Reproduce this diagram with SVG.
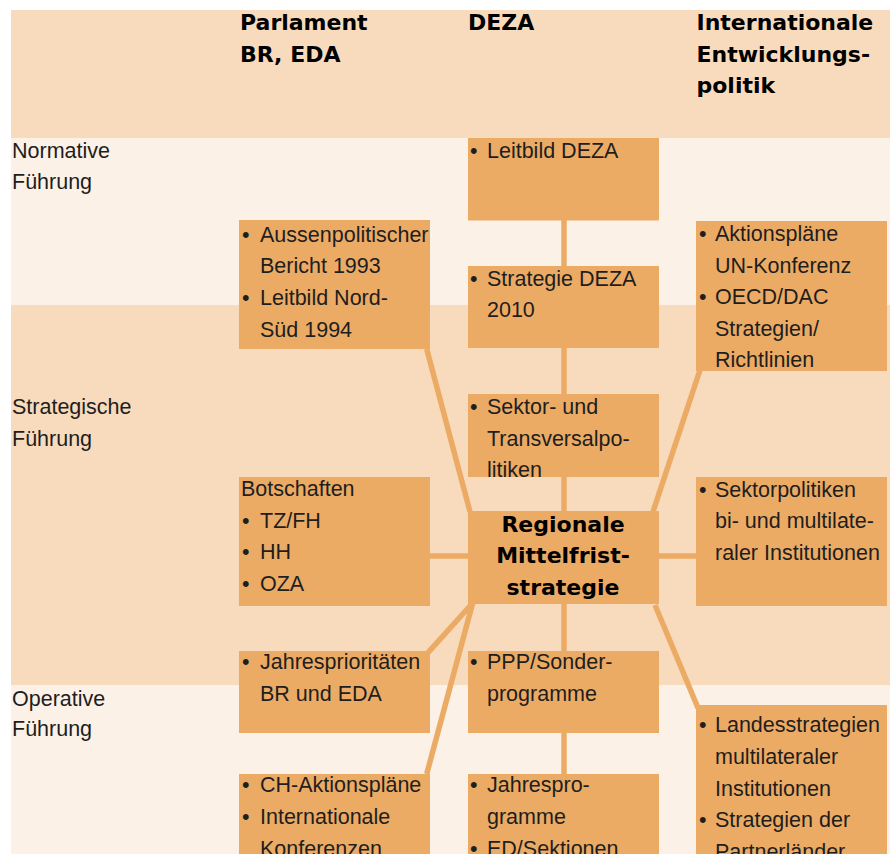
<svg xmlns="http://www.w3.org/2000/svg" width="890" height="854" viewBox="0 0 890 854">
<style>
.box{fill:#ECAB64}
.t{font-family:"Liberation Sans",Arial,sans-serif;font-size:21.5px;fill:#1e1e1e}
.h{font-family:"DejaVu Sans",Verdana,sans-serif;font-weight:bold;font-size:22px;fill:#000}
.c{stroke:#ECAB64;stroke-width:5.5;fill:none}
</style>
<rect x="0" y="0" width="890" height="854" fill="#fff"/>
<g id="bands">
<rect x="11" y="10" width="879" height="128" fill="#F8DBBD"/>
<rect x="11" y="138" width="879" height="167" fill="#FCF1E7"/>
<rect x="11" y="305" width="879" height="380" fill="#F8DBBD"/>
<rect x="11" y="685" width="879" height="169" fill="#FCF1E7"/>
</g>
<g id="headers">
<text class="h" x="240" y="30">Parlament</text>
<text class="h" x="240" y="61.7">BR, EDA</text>
<text class="h" x="468" y="30">DEZA</text>
<text class="h" x="696.5" y="30">Internationale</text>
<text class="h" x="696.5" y="61.7">Entwicklungs-</text>
<text class="h" x="696.5" y="93.3">politik</text>
</g>
<g id="rowlabels">
<text class="t" x="12" y="158">Normative</text>
<text class="t" x="12" y="189">Führung</text>
<text class="t" x="12" y="414">Strategische</text>
<text class="t" x="12" y="446">Führung</text>
<text class="t" x="12" y="705.5">Operative</text>
<text class="t" x="12" y="736">Führung</text>
</g>
<g id="connectors">
<line class="c" x1="564" y1="215" x2="564" y2="780"/>
<line class="c" x1="426.7" y1="349" x2="470" y2="511.7"/>
<line class="c" x1="700" y1="370" x2="653" y2="511.7"/>
<line class="c" x1="425" y1="556" x2="700" y2="556"/>
<line class="c" x1="472.7" y1="603" x2="428" y2="652.7"/>
<line class="c" x1="472.7" y1="603" x2="426.7" y2="774"/>
<line class="c" x1="655" y1="605" x2="698" y2="708"/>
</g>
<g id="leitbild-deza">
<rect class="box" x="468" y="138" width="191" height="82.5"/>
<text class="t" x="470" y="157.5">•</text><text class="t" x="487" y="157.5">Leitbild DEZA</text>
</g>
<g id="strategie-deza">
<rect class="box" x="468" y="266" width="191" height="82"/>
<text class="t" x="470" y="286">•</text><text class="t" x="487" y="286">Strategie DEZA</text>
<text class="t" x="487" y="317.3">2010</text>
</g>
<g id="sektor-transversal">
<rect class="box" x="468" y="394" width="191" height="83"/>
<text class="t" x="470" y="414">•</text><text class="t" x="487" y="414">Sektor- und</text>
<text class="t" x="487" y="446">Transversalpo-</text>
<text class="t" x="487" y="477.3">litiken</text>
</g>
<g id="regionale">
<rect class="box" x="468" y="511" width="191" height="93"/>
<text class="h" x="563" y="531.7" text-anchor="middle">Regionale</text>
<text class="h" x="563" y="563.3" text-anchor="middle">Mittelfrist-</text>
<text class="h" x="563" y="595" text-anchor="middle">strategie</text>
</g>
<g id="ppp">
<rect class="box" x="468" y="651" width="191" height="82"/>
<text class="t" x="470" y="669">•</text><text class="t" x="487" y="669">PPP/Sonder-</text>
<text class="t" x="487" y="700.7">programme</text>
</g>
<g id="jahresprogramme">
<rect class="box" x="468" y="774" width="191" height="80"/>
<text class="t" x="470" y="792.3">•</text><text class="t" x="487" y="792.3">Jahrespro-</text>
<text class="t" x="487" y="824">gramme</text>
<text class="t" x="470" y="855.7">•</text><text class="t" x="487" y="855.7">ED/Sektionen</text>
</g>
<g id="aussenpolitischer">
<rect class="box" x="239" y="220" width="191" height="129"/>
<text class="t" x="242" y="241.7">•</text><text class="t" x="260" y="241.7">Aussenpolitischer</text>
<text class="t" x="260" y="273.3">Bericht 1993</text>
<text class="t" x="242" y="305">•</text><text class="t" x="260" y="305">Leitbild Nord-</text>
<text class="t" x="260" y="336.7">Süd 1994</text>
</g>
<g id="botschaften">
<rect class="box" x="239" y="477" width="191" height="129"/>
<text class="t" x="241" y="496">Botschaften</text>
<text class="t" x="242" y="527.7">•</text><text class="t" x="260" y="527.7">TZ/FH</text>
<text class="t" x="242" y="559.3">•</text><text class="t" x="260" y="559.3">HH</text>
<text class="t" x="242" y="591">•</text><text class="t" x="260" y="591">OZA</text>
</g>
<g id="jahresprioritaeten">
<rect class="box" x="239" y="651" width="191" height="82"/>
<text class="t" x="242" y="669">•</text><text class="t" x="260" y="669">Jahresprioritäten</text>
<text class="t" x="260" y="700.7">BR und EDA</text>
</g>
<g id="ch-aktionsplaene">
<rect class="box" x="239" y="774" width="191" height="80"/>
<text class="t" x="242" y="792.3">•</text><text class="t" x="260" y="792.3">CH-Aktionspläne</text>
<text class="t" x="242" y="824">•</text><text class="t" x="260" y="824">Internationale</text>
<text class="t" x="260" y="855.7">Konferenzen</text>
</g>
<g id="aktionsplaene-un">
<rect class="box" x="696" y="221" width="191" height="150"/>
<text class="t" x="699" y="241">•</text><text class="t" x="715" y="241">Aktionspläne</text>
<text class="t" x="715" y="272.7">UN-Konferenz</text>
<text class="t" x="699" y="304.3">•</text><text class="t" x="715" y="304.3">OECD/DAC</text>
<text class="t" x="715" y="336">Strategien/</text>
<text class="t" x="715" y="367.3">Richtlinien</text>
</g>
<g id="sektorpolitiken">
<rect class="box" x="696" y="477" width="191" height="129"/>
<text class="t" x="699" y="496.7">•</text><text class="t" x="715" y="496.7">Sektorpolitiken</text>
<text class="t" x="715" y="528.3">bi- und multilate-</text>
<text class="t" x="715" y="560">raler Institutionen</text>
</g>
<g id="landesstrategien">
<rect class="box" x="696" y="705" width="191" height="149"/>
<text class="t" x="699" y="732.3">•</text><text class="t" x="715" y="732.3">Landesstrategien</text>
<text class="t" x="715" y="764">multilateraler</text>
<text class="t" x="715" y="795.7">Institutionen</text>
<text class="t" x="699" y="827.3">•</text><text class="t" x="715" y="827.3">Strategien der</text>
<text class="t" x="715" y="859">Partnerländer</text>
</g>
</svg>
